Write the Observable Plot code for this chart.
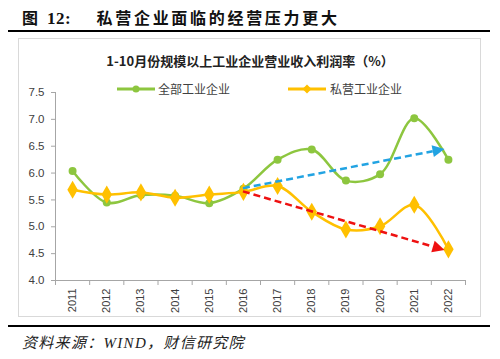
<!DOCTYPE html>
<html><head><meta charset="utf-8">
<script src="https://cdn.jsdelivr.net/npm/d3@7"></script>
<script src="https://cdn.jsdelivr.net/npm/@observablehq/plot@0.6"></script>
<style>
body{margin:0;background:#fff;}
#wrap{position:relative;width:500px;height:359px;overflow:hidden;font-family:"Noto Sans CJK SC","Noto Sans",sans-serif;}
#wrap > *{position:absolute;}
.rule{left:8px;width:482px;height:2px;background:#000;}
#head{left:22px;top:5px;font-size:16px;font-weight:700;letter-spacing:2.7px;color:#111;white-space:nowrap;line-height:24px;}
#head .num{font-family:"Liberation Serif",serif;font-size:17px;letter-spacing:0.5px;}
#box{left:18px;top:38px;width:461px;height:277px;border:1px solid #d9d9d9;}
#chart{left:0;top:0;}
#ctitle{left:0;width:500px;top:52px;text-align:center;font-size:13px;font-weight:700;color:#222;line-height:18px;white-space:nowrap;}
.lg{top:81px;font-size:12px;color:#404040;line-height:16px;white-space:nowrap;}
.lgsw{top:83px;}
#src{left:22px;top:332px;font-size:15px;font-style:italic;letter-spacing:1.3px;color:#222;white-space:nowrap;line-height:20px;}
#src .w{font-family:"Liberation Serif",serif;}
#chart g[aria-label^="x-axis"] line, #chart g[aria-label^="x-axis"] path,
#chart g[aria-label^="y-axis"] line, #chart g[aria-label^="y-axis"] path{stroke:#a6a6a6;}
</style></head><body>
<div id="wrap">
  <div id="head">图 <span class="num">12:</span>&nbsp;&nbsp;&nbsp;&nbsp;私营企业面临的经营压力更大</div>
  <div class="rule" style="top:30px"></div>
  <div id="box"></div>
  <div id="chart"></div>
  <div id="ctitle">1-10月份规模以上工业企业营业收入利润率（%）</div>
  <svg class="lgsw" style="left:117px" width="38" height="12"><line x1="0" x2="38" y1="6" y2="6" stroke="#8dc63f" stroke-width="3"/><circle cx="19" cy="6" r="3.5" fill="#8dc63f"/></svg>
  <div class="lg" style="left:158px">全部工业企业</div>
  <svg class="lgsw" style="left:288px" width="38" height="12"><line x1="0" x2="38" y1="6" y2="6" stroke="#ffc000" stroke-width="3"/><path d="M19,1.5L23.5,6L19,10.5L14.5,6Z" fill="#ffc000"/></svg>
  <div class="lg" style="left:330px">私营工业企业</div>
  <div class="rule" style="top:325px"></div>
  <div id="src">资料来源：<span class="w">WIND</span>，财信研究院</div>
</div>
<script>
const years = [2011, 2012, 2013, 2014, 2015, 2016, 2017, 2018, 2019, 2020, 2021, 2022];
const allIndustry = [6.04, 5.45, 5.59, 5.58, 5.44, 5.71, 6.25, 6.44, 5.86, 5.98, 7.02, 6.25];
const privateIndustry = [5.69, 5.60, 5.64, 5.54, 5.60, 5.65, 5.76, 5.28, 4.95, 5.01, 5.41, 4.58];
const yTicks = [4.0, 4.5, 5.0, 5.5, 6.0, 6.5, 7.0, 7.5];
// trend arrows (blue: all industry, red: private)
const arrowX1 = [2016, 2016];
const arrowY1 = [5.71, 5.65];
const arrowX2 = [2021.9, 2021.9];
const arrowY2 = [6.44, 4.56];

const xBounds = years.map(y => y - 0.5).concat([years[years.length - 1] + 0.5]);
const allData = years.map((y, i) => ({year: y, value: allIndustry[i]}));
const privData = years.map((y, i) => ({year: y, value: privateIndustry[i]}));
const arrowColors = ["#22a3e2", "#ee1111"];

function arrows(index, scales) {
  const g = d3.create("svg:g");
  arrowX1.forEach((_, i) => {
    const x1 = scales.x(arrowX1[i]), y1 = scales.y(arrowY1[i]);
    const x2 = scales.x(arrowX2[i]), y2 = scales.y(arrowY2[i]);
    const dx = x2 - x1, dy = y2 - y1, L = Math.hypot(dx, dy);
    const ux = dx / L, uy = dy / L, hl = 12, hw = 6;
    const bx = x2 - ux * hl, by = y2 - uy * hl;
    g.append("line").attr("x1", x1).attr("y1", y1).attr("x2", bx).attr("y2", by)
      .attr("stroke", arrowColors[i]).attr("stroke-width", 2.5).attr("stroke-dasharray", "7,4");
    g.append("path")
      .attr("d", `M${x2},${y2}L${bx - uy * hw},${by + ux * hw}L${bx + uy * hw},${by - ux * hw}Z`)
      .attr("fill", arrowColors[i]);
  });
  return g.node();
}

const chart = Plot.plot({
  width: 500, height: 359,
  marginLeft: 55, marginRight: 35, marginTop: 92, marginBottom: 79,
  style: {background: "transparent", color: "#404040", fontSize: "11.5px", fontFamily: "'Liberation Sans', Arial, sans-serif"},
  x: {domain: [xBounds[0], xBounds[xBounds.length - 1]], ticks: xBounds, tickFormat: () => "", tickSize: 5, label: null},
  y: {domain: [4, 7.5], ticks: yTicks, tickFormat: d => d.toFixed(1), tickSize: 4, tickPadding: 7, label: null},
  marks: [
    Plot.ruleX([xBounds[0]], {stroke: "#a6a6a6"}),
    Plot.ruleY([4], {stroke: "#a6a6a6"}),
    Plot.text(years, {x: d => d, y: () => 4, dy: 8, rotate: -90, textAnchor: "end", text: d => String(d), fontSize: 11, fill: "#404040"}),
    Plot.line(allData, {x: "year", y: "value", stroke: "#8dc63f", strokeWidth: 2.5, curve: "catmull-rom"}),
    Plot.line(privData, {x: "year", y: "value", stroke: "#ffc000", strokeWidth: 2.5, curve: "catmull-rom"}),
    Plot.dot(allData, {x: "year", y: "value", r: 4, fill: "#8dc63f", stroke: "none"}),
    Plot.dot(privData, {x: "year", y: "value", r: 5.5, symbol: "diamond", fill: "#ffc000", stroke: "none"}),
    arrows
  ]
});
document.getElementById("chart").appendChild(chart);
</script>
</body></html>
